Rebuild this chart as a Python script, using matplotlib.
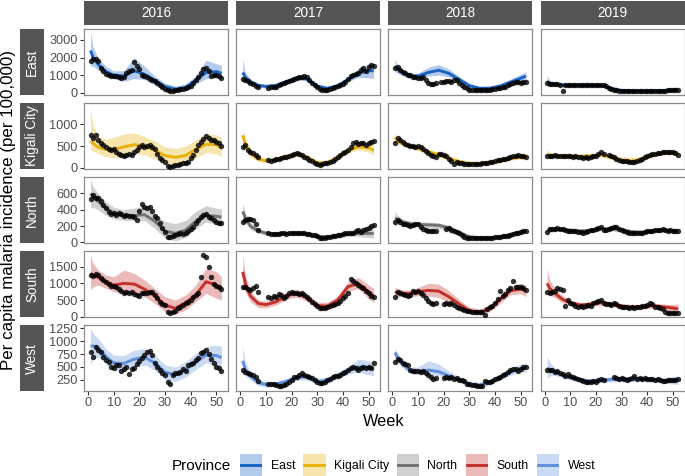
import numpy as np
import matplotlib
matplotlib.use('Agg')
import matplotlib.pyplot as plt
from matplotlib.patches import Rectangle
from matplotlib.lines import Line2D

plt.rcParams['font.family'] = ['Liberation Sans', 'DejaVu Sans']

provinces = ['East', 'Kigali City', 'North', 'South', 'West']
years = [2016, 2017, 2018, 2019]
weeks = np.arange(1, 53)
knots = [1, 2, 4, 7, 10, 14, 18, 22, 26, 30, 34, 38, 42, 46, 50, 52]

# ---- observed weekly incidence (None = missing week) ----
east_2016 = [1800, 1930, 1900, 1800, 1400, 1220, 1080, 1020, 970, 930, 930, 890, 830, 890, 1120, 1220, 1280, 1740, 1510, 1320,
             1020, 970, 890, 770, 735, 640, 540, 425, 310, 230, 155, 115, 115, 135, 155, 190, 210, 250, 310, 385,
             540, 735, 890, 1120, 1350, 1410, 1250, 950, 1000, 980, 930, 860]
east_2017 = [780, 720, 650, 560, 480, 400, 300, None, None, None, 290, 300, 320, 350, 420, 480, 530, 600, 650, 720,
             760, 840, 880, 920, 950, 870, 720, 570, 440, 300, 190, 150, 150, 170, 200, 250, 300, 380, 430, 490,
             620, 760, 950, 1000, 1050, 1140, 1290, 1380, 1250, 1480, 1570, 1520]
east_2018 = [1400, 1480, 1300, 1200, 1100, 1000, 1000, 920, 880, 850, 820, 870, 700, 560, 480, 500, 530, None, 600, 620,
             640, 640, 620, 700, 720, 560, 420, 320, 250, 180, 150, 140, 140, 140, 150, 150, 160, 170, 190, 210,
             240, 270, 300, 350, 420, 480, 530, 620, 600, 580, 620, 630]
east_2019 = [560, 520, 500, 510, 470, 440, 100, 430, 430, 420, 420, 430, 430, 420, 420, 410, 420, 410, 430, 440,
             440, 460, 420, 360, 260, 200, 150, 130, 120, 110, 110, 100, 100, 100, 100, 100, 100, 100, 100, 100,
             100, 110, 110, 110, 110, 120, 120, 130, 140, 150, 150, 140]

kigali_2016 = [754, 677, 754, 640, 577, 523, 470, 430, 400, 420, 370, 315, 292, 270, 292, 315, 292, 370, 408, 485,
               523, 485, 500, 523, 485, 423, 315, 215, 177, 138, 38, 23, 38, 54, 70, 85, 100, 115, 138, 215,
               292, 408, 523, 600, 654, 730, 677, 638, 638, 600, 562, 500]
kigali_2017 = [485, 523, 408, 370, 330, 292, 254, None, None, None, 177, 160, 177, 192, 208, 215, 238, 254, 270, 292,
               315, 330, 308, 285, 254, 215, 177, 146, 115, 85, 70, 77, 100, 115, 138, 160, 192, 238, 285, 330,
               370, 408, 485, 577, 600, 546, 562, 577, 523, 562, 600, 623]
kigali_2018 = [560, 680, 650, 600, 540, 520, 500, 490, 480, 500, 480, 440, 380, 330, 300, 260, 250, 310, 320, 300,
               260, 210, 150, 90, 130, 110, 100, 90, 80, 80, 80, 80, 90, 90, 100, 110, 120, 130, 140, 150,
               170, 180, 200, 210, 230, 240, 260, 280, 300, 270, 260, 240]
kigali_2019 = [270, 280, 270, 290, 260, 280, 270, 260, 270, 260, 250, 260, 250, 240, 230, 240, 230, 250, 260, 280,
               310, 360, 320, None, 290, 260, 250, 210, 170, 160, 150, 150, 140, 140, 140, 150, 170, 200, 240, 270,
               290, 310, 320, 340, 350, 360, 370, 360, 370, 360, 340, 290]

north_2016 = [530, 580, 550, 540, 510, 457, 416, 375, 347, 355, 340, 355, 343, 330, 340, 330, 322, 306, 273, 380,
              470, 430, 420, 440, 380, 330, 294, 233, 171, 130, 70, 61, 78, 90, 102, 110, 102, 118, 139, 159,
              192, 233, 273, 306, 335, 343, 314, 294, 273, 253, 233, 241]
north_2017 = [250, 280, 290, 285, 270, 230, 150, None, None, None, 110, 105, 105, 100, 105, 110, 110, 105, 110, 115,
              120, 115, 120, 115, 110, 105, 100, 95, 90, 80, 60, 50, 55, 65, 70, 75, 80, 90, 95, 100,
              110, 110, 120, 115, 140, 150, 130, 150, 170, 180, 200, 210]
north_2018 = [250, 270, 250, 230, 220, 210, 200, 210, 230, 220, 190, 170, 150, 140, 140, 140, 135, None, None, None,
              170, 180, 150, 140, 130, 110, 90, 70, 60, 55, 50, 50, 50, 55, 55, 55, 60, 60, 60, 65,
              70, 70, 75, 80, 85, 90, 100, 110, 120, 130, 140, 140]
north_2019 = [130, 160, 165, 170, 180, 165, 160, 150, 145, 140, 140, 135, 130, 130, 120, 130, 140, 150, 150, 165,
              175, 190, 155, 150, 165, 175, 185, 190, 160, 150, 140, 130, 120, 115, 115, 110, 115, 120, 130, 135,
              140, 145, 150, 155, 150, 160, 150, 145, 150, 145, 140, 135]

south_2016 = [1250, 1220, 1280, 1250, 1150, 1100, 1050, 980, 920, 920, 880, 820, 780, 720, 750, 700, 750, 680, 650, 620,
              700, 720, 720, 750, 740, 650, 550, 450, 380, 350, 150, 120, 150, 180, 250, 300, 350, 400, 450, 500,
              580, 650, 720, 1180, 1850, 1800, 1480, 1200, 980, 920, 880, 820]
south_2017 = [880, 900, 830, 800, 860, 920, 740, None, None, None, 600, 550, 620, 580, 680, 650, 560, 620, 700, 740,
              720, 700, 680, 700, 650, 600, 520, 450, 380, 320, 270, 250, 260, 290, 320, 350, 380, 420, 480, 550,
              620, 700, 1120, 1080, 1000, 950, 900, 850, 780, 700, 620, 580]
south_2018 = [580, 750, 700, 680, 650, 620, 640, 760, 750, 770, 720, 650, 550, 480, 420, 380, 400, None, None, 380,
              400, 380, 420, 350, 300, 250, 220, 200, 170, 160, 150, 150, 150, 140, 150, 60, 240, 280, 320, 400,
              520, 780, 620, 680, 800, 850, 1070, 900, 880, 900, 850, 800]
south_2019 = [750, 720, 740, 760, 850, 820, 800, 330, 500, 420, 380, 330, 300, 320, 300, 330, 350, 320, 400, 430,
              480, 510, 420, 380, 370, 360, 410, 380, 320, 300, 280, 290, 270, 290, 270, 290, 300, 320, 330, 350,
              420, 380, 300, 280, 250, 230, 150, 120, 110, 110, 110, 120]

west_2016 = [798, 702, 880, 830, 780, 702, 637, 605, 495, 476, 540, 540, 420, 470, 500, 370, 456, 476, 560, 620,
             680, 730, 790, 800, 740, 585, 508, 443, 379, 347, 200, 173, 347, 379, 392, 411, 456, 420, 540, 560,
             580, 640, 680, 766, 798, 830, 753, 650, 573, 508, 476, 420]
west_2017 = [443, 411, 379, 366, 347, 314, 237, None, None, None, 173, 173, 170, 153, 134, 134, 153, 173, 218, 250,
             302, 314, 347, 379, 347, 327, 314, 282, 250, 218, 186, 198, 218, 250, 263, 314, 327, 327, 347, 379,
             411, 443, 476, 508, 476, 443, 476, 508, 476, 508, 476, 585]
west_2018 = [600, 650, 630, 580, 560, 530, 440, 430, 430, 420, 410, 420, 390, 340, 300, 260, 280, None, None, 280,
             300, 290, 300, 270, 280, 250, 240, 220, 180, 170, 150, 150, 140, 140, 130, 230, 200, 210, 230, 260,
             280, 310, 340, 370, 400, 440, 470, 460, 430, 470, 500, 490]
west_2019 = [450, 440, 450, 410, 420, 390, 370, 320, 360, 320, 300, 280, 260, 240, 230, 210, 200, 200, 220, 200,
             240, 260, 240, None, None, None, 300, 280, 270, 280, 260, 250, 270, 280, 320, 270, 280, 270, 280, 270,
             260, 270, 250, 260, 240, 230, 220, 240, 250, 240, 250, 260]

# ---- model fit and interval, read at the knot weeks ----
east_2016_fit = [2400, 2000, 1600, 1200, 1000, 950, 1250, 1050, 700, 350, 200, 300, 700, 1150, 1200, 1100]
east_2016_lo = [1500, 1500, 1300, 950, 800, 650, 800, 750, 450, 120, 50, 120, 480, 800, 850, 750]
east_2016_hi = [3400, 2600, 1950, 1500, 1250, 1250, 2000, 1500, 950, 550, 380, 500, 950, 1850, 1650, 1550]
east_2017_fit = [1150, 880, 620, 420, 360, 420, 620, 850, 780, 380, 250, 400, 750, 1100, 1250, 1250]
east_2017_lo = [650, 620, 480, 310, 260, 320, 500, 740, 650, 280, 150, 300, 620, 880, 850, 800]
east_2017_hi = [1900, 1150, 780, 520, 460, 520, 750, 980, 900, 480, 350, 510, 900, 1350, 1650, 1700]
east_2018_fit = [1500, 1350, 1150, 950, 950, 1150, 1280, 1100, 750, 400, 250, 260, 380, 600, 820, 950]
east_2018_lo = [1200, 1100, 950, 800, 800, 950, 1000, 900, 580, 280, 150, 150, 280, 450, 620, 680]
east_2018_hi = [1900, 1600, 1300, 1100, 1100, 1450, 1600, 1350, 920, 540, 350, 360, 500, 780, 1050, 1200]
east_2019_fit = [650, 550, 480, 440, 420, 420, 420, 400, 250, 130, 100, 100, 100, 120, 170, 200]
east_2019_lo = [350, 420, 410, 390, 370, 370, 370, 350, 200, 80, 50, 50, 50, 70, 100, 110]
east_2019_hi = [1000, 700, 560, 490, 470, 470, 470, 450, 310, 180, 150, 150, 150, 180, 260, 300]

kigali_2016_fit = [620, 560, 470, 420, 420, 480, 530, 500, 400, 280, 240, 280, 420, 540, 530, 450]
kigali_2016_lo = [400, 380, 320, 250, 230, 270, 330, 300, 200, 100, 60, 100, 230, 350, 320, 250]
kigali_2016_hi = [1380, 1000, 720, 650, 700, 780, 800, 720, 620, 480, 440, 500, 640, 780, 760, 700]
kigali_2017_fit = [750, 550, 330, 200, 160, 190, 260, 310, 250, 110, 120, 240, 400, 480, 460, 400]
kigali_2017_lo = [500, 420, 250, 150, 110, 150, 220, 260, 210, 70, 80, 190, 340, 400, 360, 290]
kigali_2017_hi = [900, 650, 420, 260, 220, 240, 310, 360, 300, 160, 170, 290, 460, 560, 570, 560]
kigali_2018_fit = [700, 620, 560, 500, 440, 370, 300, 220, 140, 100, 100, 120, 160, 210, 250, 260]
kigali_2018_lo = [560, 540, 500, 450, 390, 320, 250, 170, 90, 60, 60, 80, 120, 170, 200, 190]
kigali_2018_hi = [830, 700, 620, 550, 490, 420, 350, 270, 190, 140, 140, 160, 200, 250, 300, 330]
kigali_2019_fit = [300, 290, 280, 275, 270, 265, 275, 300, 240, 170, 150, 200, 290, 340, 350, 330]
kigali_2019_lo = [200, 230, 230, 235, 235, 230, 240, 260, 190, 110, 100, 150, 250, 300, 300, 260]
kigali_2019_hi = [420, 350, 330, 315, 305, 300, 310, 340, 300, 260, 240, 270, 330, 380, 400, 400]

north_2016_fit = [600, 560, 500, 420, 360, 330, 330, 340, 260, 140, 110, 150, 260, 330, 320, 310]
north_2016_lo = [420, 430, 400, 330, 290, 270, 270, 270, 170, 50, 20, 60, 170, 250, 220, 200]
north_2016_hi = [780, 680, 600, 500, 430, 400, 420, 440, 340, 260, 230, 270, 380, 450, 420, 410]
north_2017_fit = [380, 300, 200, 140, 115, 105, 110, 115, 100, 75, 70, 85, 100, 110, 110, 110]
north_2017_lo = [300, 240, 160, 110, 90, 85, 90, 95, 80, 55, 50, 65, 75, 75, 60, 55]
north_2017_hi = [480, 360, 240, 170, 140, 125, 130, 140, 125, 100, 95, 110, 130, 150, 170, 180]
north_2018_fit = [300, 280, 250, 230, 220, 215, 210, 180, 120, 70, 55, 55, 70, 100, 130, 140]
north_2018_lo = [200, 220, 210, 200, 190, 180, 170, 140, 95, 50, 35, 35, 50, 80, 110, 110]
north_2018_hi = [380, 330, 290, 260, 250, 250, 240, 210, 150, 95, 75, 75, 90, 120, 160, 170]
north_2019_fit = [150, 155, 160, 160, 150, 140, 150, 165, 170, 155, 130, 125, 140, 150, 145, 140]
north_2019_lo = [110, 125, 135, 135, 125, 115, 125, 140, 140, 125, 105, 100, 115, 125, 115, 105]
north_2019_hi = [210, 185, 185, 185, 175, 165, 175, 190, 200, 185, 155, 150, 165, 175, 175, 175]

south_2016_fit = [1300, 1250, 1180, 1050, 950, 1000, 980, 830, 620, 350, 250, 420, 650, 1050, 950, 850]
south_2016_lo = [800, 900, 950, 850, 750, 700, 700, 600, 400, 150, 80, 200, 450, 700, 550, 500]
south_2016_hi = [1850, 1600, 1400, 1250, 1200, 1400, 1300, 1100, 850, 600, 500, 650, 950, 1450, 1350, 1200]
south_2017_fit = [1350, 1000, 620, 400, 360, 450, 620, 700, 580, 330, 320, 500, 900, 1000, 750, 620]
south_2017_lo = [1000, 750, 450, 280, 260, 350, 520, 590, 470, 230, 220, 390, 760, 840, 550, 420]
south_2017_hi = [1850, 1250, 780, 500, 470, 560, 730, 820, 700, 440, 430, 620, 1050, 1180, 950, 850]
south_2018_fit = [750, 720, 700, 700, 750, 790, 770, 600, 380, 180, 130, 250, 520, 780, 830, 780]
south_2018_lo = [550, 600, 610, 600, 630, 620, 580, 440, 260, 90, 50, 150, 400, 660, 690, 600]
south_2018_hi = [900, 850, 800, 800, 880, 1000, 980, 780, 520, 290, 230, 360, 650, 930, 1000, 950]
south_2019_fit = [1000, 850, 700, 520, 420, 350, 380, 420, 380, 320, 290, 300, 330, 300, 260, 240]
south_2019_lo = [700, 650, 570, 420, 340, 280, 310, 350, 310, 250, 220, 230, 260, 220, 150, 120]
south_2019_hi = [1450, 1100, 850, 630, 500, 420, 450, 500, 450, 390, 360, 370, 410, 380, 370, 380]

west_2016_fit = [900, 910, 870, 700, 580, 570, 650, 690, 580, 400, 350, 440, 600, 730, 720, 680]
west_2016_lo = [550, 650, 700, 560, 430, 420, 500, 540, 440, 260, 220, 300, 450, 580, 520, 480]
west_2016_hi = [1250, 1150, 1050, 850, 730, 720, 820, 860, 740, 540, 500, 600, 760, 900, 920, 900]
west_2017_fit = [620, 450, 320, 200, 160, 170, 220, 300, 310, 220, 240, 330, 430, 500, 490, 470]
west_2017_lo = [400, 330, 250, 140, 110, 120, 170, 240, 250, 160, 180, 270, 360, 400, 350, 330]
west_2017_hi = [900, 600, 400, 260, 220, 220, 280, 360, 370, 280, 300, 400, 510, 650, 620, 600]
west_2018_fit = [780, 680, 550, 430, 410, 440, 410, 330, 250, 170, 150, 210, 300, 400, 470, 480]
west_2018_lo = [600, 580, 480, 370, 350, 360, 330, 270, 200, 120, 100, 160, 250, 340, 400, 400]
west_2018_hi = [850, 780, 620, 500, 500, 620, 560, 420, 310, 220, 200, 260, 360, 470, 550, 570]
west_2019_fit = [480, 450, 400, 340, 290, 250, 230, 240, 260, 265, 265, 260, 255, 240, 235, 235]
west_2019_lo = [280, 320, 340, 290, 250, 210, 190, 200, 210, 220, 220, 215, 210, 190, 170, 160]
west_2019_hi = [700, 600, 470, 390, 330, 290, 270, 280, 310, 310, 310, 305, 300, 290, 310, 320]

y_ticks = [[0, 1000, 2000, 3000], [0, 500, 1000], [0, 200, 400, 600], [0, 500, 1000, 1500],
           [250, 500, 750, 1000, 1250]]

obs = {
    'East': [east_2016, east_2017, east_2018, east_2019],
    'Kigali City': [kigali_2016, kigali_2017, kigali_2018, kigali_2019],
    'North': [north_2016, north_2017, north_2018, north_2019],
    'South': [south_2016, south_2017, south_2018, south_2019],
    'West': [west_2016, west_2017, west_2018, west_2019],
}
fits = {
    'East': [(east_2016_fit, east_2016_lo, east_2016_hi), (east_2017_fit, east_2017_lo, east_2017_hi),
             (east_2018_fit, east_2018_lo, east_2018_hi), (east_2019_fit, east_2019_lo, east_2019_hi)],
    'Kigali City': [(kigali_2016_fit, kigali_2016_lo, kigali_2016_hi), (kigali_2017_fit, kigali_2017_lo, kigali_2017_hi),
                    (kigali_2018_fit, kigali_2018_lo, kigali_2018_hi), (kigali_2019_fit, kigali_2019_lo, kigali_2019_hi)],
    'North': [(north_2016_fit, north_2016_lo, north_2016_hi), (north_2017_fit, north_2017_lo, north_2017_hi),
              (north_2018_fit, north_2018_lo, north_2018_hi), (north_2019_fit, north_2019_lo, north_2019_hi)],
    'South': [(south_2016_fit, south_2016_lo, south_2016_hi), (south_2017_fit, south_2017_lo, south_2017_hi),
              (south_2018_fit, south_2018_lo, south_2018_hi), (south_2019_fit, south_2019_lo, south_2019_hi)],
    'West': [(west_2016_fit, west_2016_lo, west_2016_hi), (west_2017_fit, west_2017_lo, west_2017_hi),
             (west_2018_fit, west_2018_lo, west_2018_hi), (west_2019_fit, west_2019_lo, west_2019_hi)],
}

# ---- styling / layout (pixels of a 685x476 canvas) ----
line_colors = ['#1a62c4', '#e8b10a', '#727272', '#c4302b', '#5f8fdb']
y_lims = [(-120, 3608), (-25, 1484), (-3, 799), (-3, 1964), (37, 1304)]
W, H = 685, 476
col_left = [84, 236.2, 388.4, 540.6]
col_w = 144
row_top = [29.3, 103.3, 177.2, 251.3, 325.4]
row_h = 65.5
strip_col = '#555555'


def rect(x, y, w, h):
    return [x / W, 1 - (y + h) / H, w / W, h / H]


fig = plt.figure(figsize=(6.85, 4.76), dpi=100)

for r, prov in enumerate(provinces):
    for c, yr in enumerate(years):
        ax = fig.add_axes(rect(col_left[c], row_top[r], col_w, row_h))
        fit, lo, hi = fits[prov][c]
        ax.fill_between(knots, lo, hi, color=line_colors[r], alpha=0.33, lw=0, zorder=1)
        ax.plot(knots, fit, color=line_colors[r], lw=2.1, zorder=2, solid_capstyle='butt')
        y = np.array(obs[prov][c], dtype=float)
        ax.scatter(weeks, y, s=15, color='black', alpha=0.8, lw=0, zorder=3)
        ax.set_xlim(-1.55, 54.55)
        ax.set_ylim(*y_lims[r])
        ax.set_xticks([0, 10, 20, 30, 40, 50])
        ax.set_yticks(y_ticks[r])
        for s in ax.spines.values():
            s.set_color('#8c8c8c')
            s.set_linewidth(0.9)
        ax.tick_params(length=3, width=0.8, color='#333333', labelcolor='#4d4d4d',
                       labelsize=9.2, pad=1.5)
        if c != 0:
            ax.tick_params(axis='y', left=False, labelleft=False)
        if r != len(provinces) - 1:
            ax.tick_params(axis='x', bottom=False, labelbottom=False)

        # column strip
        if r == 0:
            sa = fig.add_axes(rect(col_left[c], 1, col_w, 23.5))
            sa.set_axis_off()
            sa.add_patch(Rectangle((0, 0), 1, 1, color=strip_col, transform=sa.transAxes))
            sa.text(0.5, 0.5, str(yr), color='white', fontsize=9.8, ha='center', va='center',
                    transform=sa.transAxes)
    # row strip
    ra = fig.add_axes(rect(20, row_top[r], 24.3, row_h))
    ra.set_axis_off()
    ra.add_patch(Rectangle((0, 0), 1, 1, color=strip_col, transform=ra.transAxes))
    ra.text(0.5, 0.5, prov, color='white', fontsize=9.8, ha='center', va='center',
            rotation=90, transform=ra.transAxes)

fig.text(8.5 / W, 1 - 210 / H, 'Per capita malaria incidence (per 100,000)', rotation=90,
         ha='center', va='center', fontsize=12.2, color='black')
fig.text(384 / W, 1 - 421.5 / H, 'Week', ha='center', va='center', fontsize=11.7, color='black')

# legend
fig.text(172 / W, 1 - 466 / H, 'Province', ha='left', va='center', fontsize=11)
key_x = [240, 303.3, 396.7, 466, 537]
for i, prov in enumerate(provinces):
    ka = fig.add_axes(rect(key_x[i], 454, 22.3, 22))
    ka.set_axis_off()
    ka.set_xlim(0, 1)
    ka.set_ylim(0, 1)
    ka.add_patch(Rectangle((0, 0), 1, 1, color=line_colors[i], alpha=0.33, lw=0))
    ka.add_line(Line2D([0.05, 0.95], [0.5, 0.5], color=line_colors[i], lw=2.1))
    fig.text((key_x[i] + 30.7) / W, 1 - 466 / H, prov, ha='left', va='center', fontsize=8.8)

fig.savefig('out.png', dpi=100)
